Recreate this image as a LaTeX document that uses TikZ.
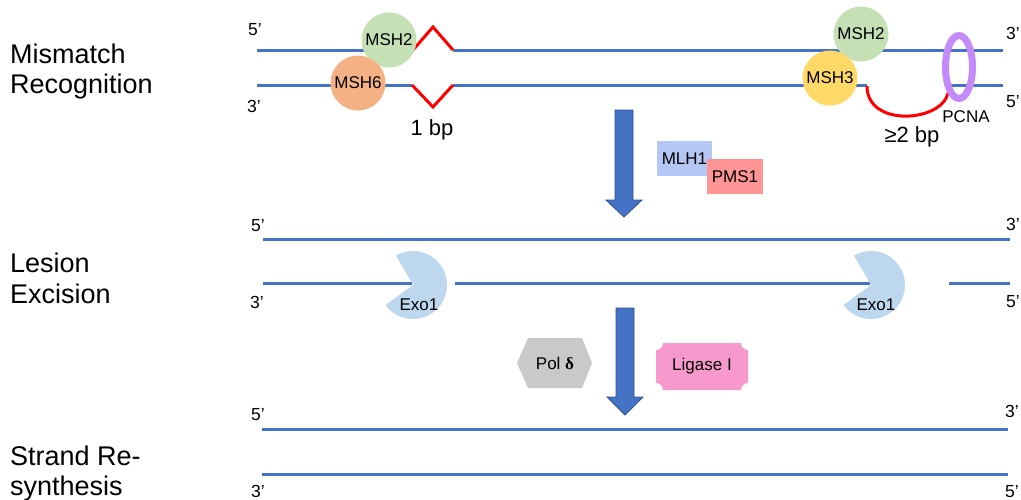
\documentclass[tikz,border=0pt]{standalone}
\usepackage{fontspec}
\setmainfont{Liberation Sans}
\newfontfamily\greekserif{Liberation Serif}
\usetikzlibrary{arrows.meta}

\definecolor{dnablue}{HTML}{4472C4}
\definecolor{arrowedge}{HTML}{2F528F}
\definecolor{mshtwo}{HTML}{C5E0B4}
\definecolor{mshsix}{HTML}{F4B183}
\definecolor{mshthree}{HTML}{FFD966}
\definecolor{pcnaring}{HTML}{C58AF9}
\definecolor{mlhone}{HTML}{B4C7F5}
\definecolor{pmsone}{HTML}{FF9494}
\definecolor{exoone}{HTML}{BDD7EE}
\definecolor{polgray}{HTML}{C9C9C9}
\definecolor{ligpink}{HTML}{F799CC}

\begin{document}
\begin{tikzpicture}[x=1pt,y=-1pt,
  strand/.style={dnablue, line width=3pt},
  kink/.style={red, line width=3pt},
  stagetitle/.style={font=\fontsize{27}{30.7}\selectfont, align=left, anchor=west, inner sep=0pt},
  endlabel/.style={font=\fontsize{17.5}{20}\selectfont, inner sep=0pt},
  protein/.style={circle, inner sep=0pt, minimum size=55pt, font=\fontsize{17}{20}\selectfont},
  boxprotein/.style={rectangle, inner sep=0pt, minimum width=55pt, minimum height=35pt, font=\fontsize{17}{20}\selectfont},
  smalltext/.style={font=\fontsize{17}{20}\selectfont, inner sep=0pt},
  bptext/.style={font=\fontsize{22}{26}\selectfont, inner sep=0pt},
  blockarrow/.style={fill=dnablue, draw=arrowedge, line width=0.8pt, line join=miter},
  exoshape/.style={fill=exoone}
]
\useasboundingbox (0,0) rectangle (1021,499);

% ---------- stage titles ----------
\node[stagetitle] (title1) at (10,71.6) {Mismatch\\Recognition};
\node[stagetitle] (title2) at (10,278) {Lesion\\Excision};
\node[stagetitle] (title3) at (10,473.5) {Strand Re-\\synthesis};

% ---------- stage 1: mismatch recognition ----------
\draw[strand] (257,50) -- (413,50);
\draw[strand] (453,50) -- (1003,50);
\draw[strand] (257,85) -- (412,85);
\draw[strand] (453,85) -- (867,85);
\draw[strand] (945,85) -- (1003,85);

% single-base mismatch bulge
\draw[kink, line join=miter] (413,50) -- (433,27) -- (453,50);
\draw[kink, line join=miter] (412,85) -- (433,107) -- (453,85);
% insertion/deletion loop
\draw[kink] (867,86) .. controls (867,128) and (942,122) .. (948,93);

\node[protein, fill=mshtwo] (msh2a) at (389,40) {MSH2};
\node[protein, fill=mshsix] (msh6) at (358,83) {MSH6};
\node[protein, fill=mshtwo] (msh2b) at (861,34) {MSH2};
\node[protein, fill=mshthree] (msh3) at (830,78) {MSH3};

% PCNA clamp ring
\draw[pcnaring, line width=7pt] (959,67) ellipse [x radius=13.5, y radius=31.5];
\node[smalltext] (pcna) at (966,117) {PCNA};

\node[bptext] (onebp) at (432,130) {1 bp};
\node[bptext] (twobp) at (912,137) {≥2 bp};

\node[endlabel] (p5a) at (255,30) {5’};
\node[endlabel] (p3a) at (254,106) {3’};
\node[endlabel] (p3b) at (1013,33) {3’};
\node[endlabel] (p5b) at (1013,102) {5’};

% ---------- transition 1 ----------
\filldraw[blockarrow] (615,110) -- (633,110) -- (633,200) -- (642,200)
  -- (624,217) -- (606,200) -- (615,200) -- cycle;
\node[boxprotein, fill=mlhone] (mlh1) at (684.5,158.5) {MLH1};
\node[boxprotein, fill=pmsone, minimum width=56pt] (pms1) at (735,176.5) {PMS1};

% ---------- stage 2: lesion excision ----------
\draw[strand] (263,239) -- (1010,239);
\draw[strand] (263,283.5) -- (412,283.5);
\draw[strand] (455,283.5) -- (870,283.5);
\draw[strand] (949,283.5) -- (1010,283.5);

\fill[exoshape] (413,285) -- ++(240:34) arc[start angle=240, end angle=504, radius=34] -- cycle;
\fill[exoshape] (871,285) -- ++(240:34) arc[start angle=240, end angle=504, radius=34] -- cycle;
\node[smalltext] (exo1a) at (419,305) {Exo1};
\node[smalltext] (exo1b) at (876,305) {Exo1};

\node[endlabel] (p5c) at (258,226) {5’};
\node[endlabel] (p3c) at (257,302) {3’};
\node[endlabel] (p3d) at (1013,224) {3’};
\node[endlabel] (p5d) at (1013,302) {5’};

% ---------- transition 2 ----------
\filldraw[blockarrow] (616,308) -- (634,308) -- (634,397) -- (643,397)
  -- (625,415) -- (607,397) -- (616,397) -- cycle;

% Pol delta (hexagon)
\fill[polgray] (517,363) -- (528,338) -- (582,338) -- (592,363) -- (582,388) -- (528,388) -- cycle;
\node[smalltext] (pol) at (555,363) {Pol \textbf{\greekserif δ}};

% Ligase I (plaque with concave corners)
\fill[ligpink] (663,343) -- (741,343)
  arc[start angle=180, end angle=90, radius=7] -- (748,383)
  arc[start angle=270, end angle=180, radius=7] -- (663,390)
  arc[start angle=0, end angle=-90, radius=7] -- (656,350)
  arc[start angle=90, end angle=0, radius=7] -- cycle;
\node[smalltext] (ligase) at (702,366.5) {Ligase I};

% ---------- stage 3: strand re-synthesis ----------
\draw[strand] (262,429) -- (1008,429);
\draw[strand] (262,474) -- (1008,474);

\node[endlabel] (p5e) at (258,415) {5’};
\node[endlabel] (p3e) at (258,491) {3’};
\node[endlabel] (p3f) at (1012,411) {3’};
\node[endlabel] (p5f) at (1012,492) {5’};
\end{tikzpicture}
\end{document}
